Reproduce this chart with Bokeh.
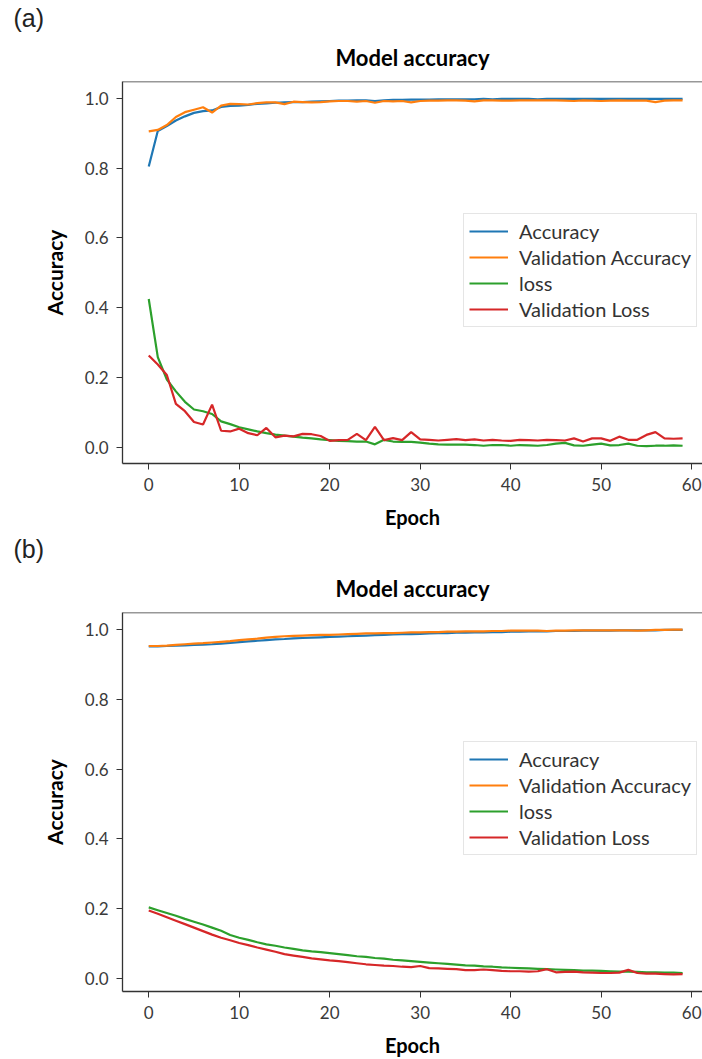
from bokeh.plotting import figure
from bokeh.layouts import column
from bokeh.models import (Range1d, FixedTicker, Span, Legend, LegendItem, Title,
                          PrintfTickFormatter, ColumnDataSource)
from bokeh.embed import file_html
from bokeh.resources import INLINE

epochs = list(range(60))

acc_a = [0.805, 0.907, 0.921, 0.937, 0.949, 0.959, 0.964, 0.966, 0.976, 0.979,
         0.980, 0.982, 0.985, 0.986, 0.988, 0.989, 0.990, 0.990, 0.991, 0.992,
         0.993, 0.994, 0.994, 0.995, 0.995, 0.993, 0.995, 0.996, 0.996, 0.997,
         0.997, 0.997, 0.998, 0.998, 0.998, 0.998, 0.998, 0.999, 0.998, 0.999,
         0.999, 0.999, 0.999, 0.998, 0.999, 0.999, 0.999, 0.999, 0.999, 0.999,
         0.999, 0.999, 0.999, 0.999, 0.999, 0.999, 0.999, 0.999, 0.999, 0.999]
val_acc_a = [0.906, 0.910, 0.924, 0.947, 0.961, 0.968, 0.975, 0.960, 0.980, 0.985,
             0.984, 0.983, 0.987, 0.989, 0.989, 0.984, 0.991, 0.990, 0.989, 0.990,
             0.992, 0.993, 0.993, 0.991, 0.993, 0.988, 0.993, 0.992, 0.993, 0.989,
             0.993, 0.994, 0.994, 0.995, 0.995, 0.994, 0.992, 0.995, 0.995, 0.994,
             0.994, 0.995, 0.995, 0.995, 0.995, 0.995, 0.994, 0.993, 0.995, 0.994,
             0.993, 0.994, 0.995, 0.994, 0.994, 0.994, 0.990, 0.994, 0.995, 0.995]
loss_a = [0.425, 0.258, 0.194, 0.160, 0.130, 0.108, 0.103, 0.095, 0.074, 0.066,
          0.057, 0.051, 0.045, 0.040, 0.036, 0.033, 0.030, 0.027, 0.025, 0.022,
          0.020, 0.018, 0.017, 0.016, 0.016, 0.008, 0.021, 0.016, 0.015, 0.015,
          0.013, 0.010, 0.008, 0.007, 0.007, 0.007, 0.006, 0.004, 0.006, 0.006,
          0.004, 0.006, 0.005, 0.004, 0.006, 0.010, 0.012, 0.005, 0.004, 0.007,
          0.010, 0.005, 0.006, 0.010, 0.004, 0.003, 0.004, 0.004, 0.005, 0.004]
val_loss_a = [0.263, 0.237, 0.207, 0.124, 0.103, 0.072, 0.065, 0.122, 0.047, 0.045,
              0.053, 0.040, 0.034, 0.055, 0.028, 0.033, 0.031, 0.038, 0.037, 0.032,
              0.018, 0.020, 0.021, 0.038, 0.020, 0.058, 0.020, 0.026, 0.020, 0.043,
              0.022, 0.021, 0.019, 0.021, 0.023, 0.020, 0.022, 0.019, 0.021, 0.019,
              0.018, 0.021, 0.020, 0.019, 0.021, 0.020, 0.019, 0.025, 0.016, 0.025,
              0.025, 0.018, 0.030, 0.021, 0.021, 0.035, 0.043, 0.025, 0.024, 0.025]

acc_b = [0.952, 0.952, 0.953, 0.954, 0.955, 0.956, 0.957, 0.958, 0.960, 0.962,
         0.964, 0.966, 0.968, 0.970, 0.972, 0.973, 0.975, 0.976, 0.977, 0.978,
         0.979, 0.980, 0.981, 0.982, 0.983, 0.984, 0.985, 0.986, 0.987, 0.987,
         0.988, 0.989, 0.990, 0.990, 0.991, 0.991, 0.992, 0.992, 0.993, 0.993,
         0.994, 0.994, 0.995, 0.995, 0.995, 0.996, 0.996, 0.996, 0.997, 0.997,
         0.997, 0.997, 0.998, 0.998, 0.998, 0.998, 0.998, 0.999, 0.999, 0.999]
val_acc_b = [0.953, 0.953, 0.954, 0.956, 0.958, 0.960, 0.961, 0.963, 0.965, 0.967,
             0.970, 0.972, 0.974, 0.977, 0.979, 0.981, 0.982, 0.983, 0.984, 0.985,
             0.985, 0.986, 0.987, 0.988, 0.989, 0.989, 0.990, 0.990, 0.991, 0.992,
             0.992, 0.993, 0.993, 0.994, 0.994, 0.995, 0.995, 0.995, 0.996, 0.996,
             0.997, 0.997, 0.997, 0.997, 0.996, 0.997, 0.997, 0.998, 0.998, 0.998,
             0.998, 0.998, 0.998, 0.998, 0.997, 0.998, 0.999, 0.999, 1.000, 1.000]
loss_b = [0.204, 0.196, 0.188, 0.180, 0.171, 0.163, 0.155, 0.146, 0.137, 0.125,
          0.117, 0.111, 0.104, 0.098, 0.094, 0.089, 0.085, 0.081, 0.078, 0.076,
          0.073, 0.070, 0.067, 0.064, 0.062, 0.059, 0.057, 0.054, 0.052, 0.050,
          0.048, 0.046, 0.044, 0.042, 0.040, 0.038, 0.037, 0.035, 0.034, 0.032,
          0.031, 0.030, 0.029, 0.028, 0.027, 0.026, 0.025, 0.024, 0.023, 0.023,
          0.022, 0.021, 0.020, 0.020, 0.019, 0.018, 0.018, 0.017, 0.017, 0.016]
val_loss_b = [0.195, 0.186, 0.176, 0.166, 0.156, 0.146, 0.136, 0.126, 0.117, 0.110,
              0.102, 0.096, 0.089, 0.083, 0.077, 0.070, 0.066, 0.062, 0.058, 0.055,
              0.052, 0.050, 0.047, 0.044, 0.041, 0.039, 0.037, 0.036, 0.034, 0.033,
              0.036, 0.030, 0.029, 0.028, 0.027, 0.024, 0.024, 0.026, 0.024, 0.022,
              0.021, 0.021, 0.020, 0.021, 0.027, 0.018, 0.019, 0.020, 0.018, 0.017,
              0.016, 0.016, 0.017, 0.025, 0.016, 0.014, 0.014, 0.013, 0.012, 0.013]

series_names = ["Accuracy", "Validation Accuracy", "loss", "Validation Loss"]
series_colors = ["#1f77b4", "#ff7f0e", "#2ca02c", "#d62728"]
x_ticks = [0, 10, 20, 30, 40, 50, 60]
y_ticks = [0.0, 0.2, 0.4, 0.6, 0.8, 1.0]

AXIS_COLOR = "#333333"
TICK_TEXT = "#3a3a3a"
FONT = "Lato"


def make_panel(tag, series, height, y_lo):
    p = figure(width=702, height=height,
               x_range=Range1d(-2.9, 61.2), y_range=Range1d(y_lo, 1.049),
               output_backend="svg", toolbar_location=None,
               min_border_left=122, min_border_right=0,
               min_border_top=81, min_border_bottom=height - 463,
               title=None)
    p.outline_line_color = None
    p.background_fill_color = "white"
    p.border_fill_color = "white"
    p.xgrid.visible = False
    p.ygrid.visible = False

    main_title = Title(text="Model accuracy", align="center", text_font=FONT,
                       text_font_style="bold", text_font_size="22px",
                       text_color="#000000", standoff=21)
    p.add_layout(main_title, "above")
    tag_title = Title(text=tag, align="left", offset=-109,
                      text_font="Liberation Sans", text_font_style="normal",
                      text_font_size="25px", text_color="#222222", standoff=0)
    p.add_layout(tag_title, "above")

    for ax, ticks, fmt in ((p.xaxis[0], x_ticks, "%d"), (p.yaxis[0], y_ticks, "%.1f")):
        ax.ticker = FixedTicker(ticks=ticks)
        ax.formatter = PrintfTickFormatter(format=fmt)
        ax.minor_tick_line_color = None
        ax.major_tick_in = 0
        ax.major_tick_out = 6
        ax.major_tick_line_color = AXIS_COLOR
        ax.axis_line_color = AXIS_COLOR
        ax.axis_line_width = 1.3
        ax.major_label_text_font = FONT
        ax.major_label_text_font_size = "17px"
        ax.major_label_text_color = TICK_TEXT
        ax.major_label_standoff = 8

    for ax, label, standoff, size in ((p.yaxis[0], "Accuracy", 15, "21px"),
                                      (p.xaxis[0], "Epoch", 11, "20px")):
        ax.axis_label = label
        ax.axis_label_text_font = FONT
        ax.axis_label_text_font_style = "bold"
        ax.axis_label_text_font_size = size
        ax.axis_label_text_color = "#000000"
        ax.axis_label_standoff = standoff

    top = Span(location=1.049, dimension="width", line_color=AXIS_COLOR, line_width=1.3)
    p.add_layout(top)

    items = []
    for name, color, vals in zip(series_names, series_colors, series):
        src = ColumnDataSource(dict(x=epochs, y=vals))
        r = p.line("x", "y", source=src, line_color=color, line_width=2.2)
        items.append(LegendItem(label=name, renderers=[r]))

    legend = Legend(items=items, location=(341, 136),
                    label_text_font=FONT, label_text_font_size="20px",
                    label_text_color="#333333",
                    glyph_width=39, glyph_height=22, label_height=22,
                    label_standoff=11, spacing=2, padding=5, margin=0,
                    border_line_color="#cccccc", border_line_width=1,
                    background_fill_color="white", background_fill_alpha=0.8)
    p.add_layout(legend)
    return p


pa = make_panel("(a)", [acc_a, val_acc_a, loss_a, val_loss_a], 531, -0.047)
pb = make_panel("(b)", [acc_b, val_acc_b, loss_b, val_loss_b], 528, -0.037)

layout = column(pa, pb, spacing=0)
open("out.html", "w").write(file_html(layout, INLINE))
